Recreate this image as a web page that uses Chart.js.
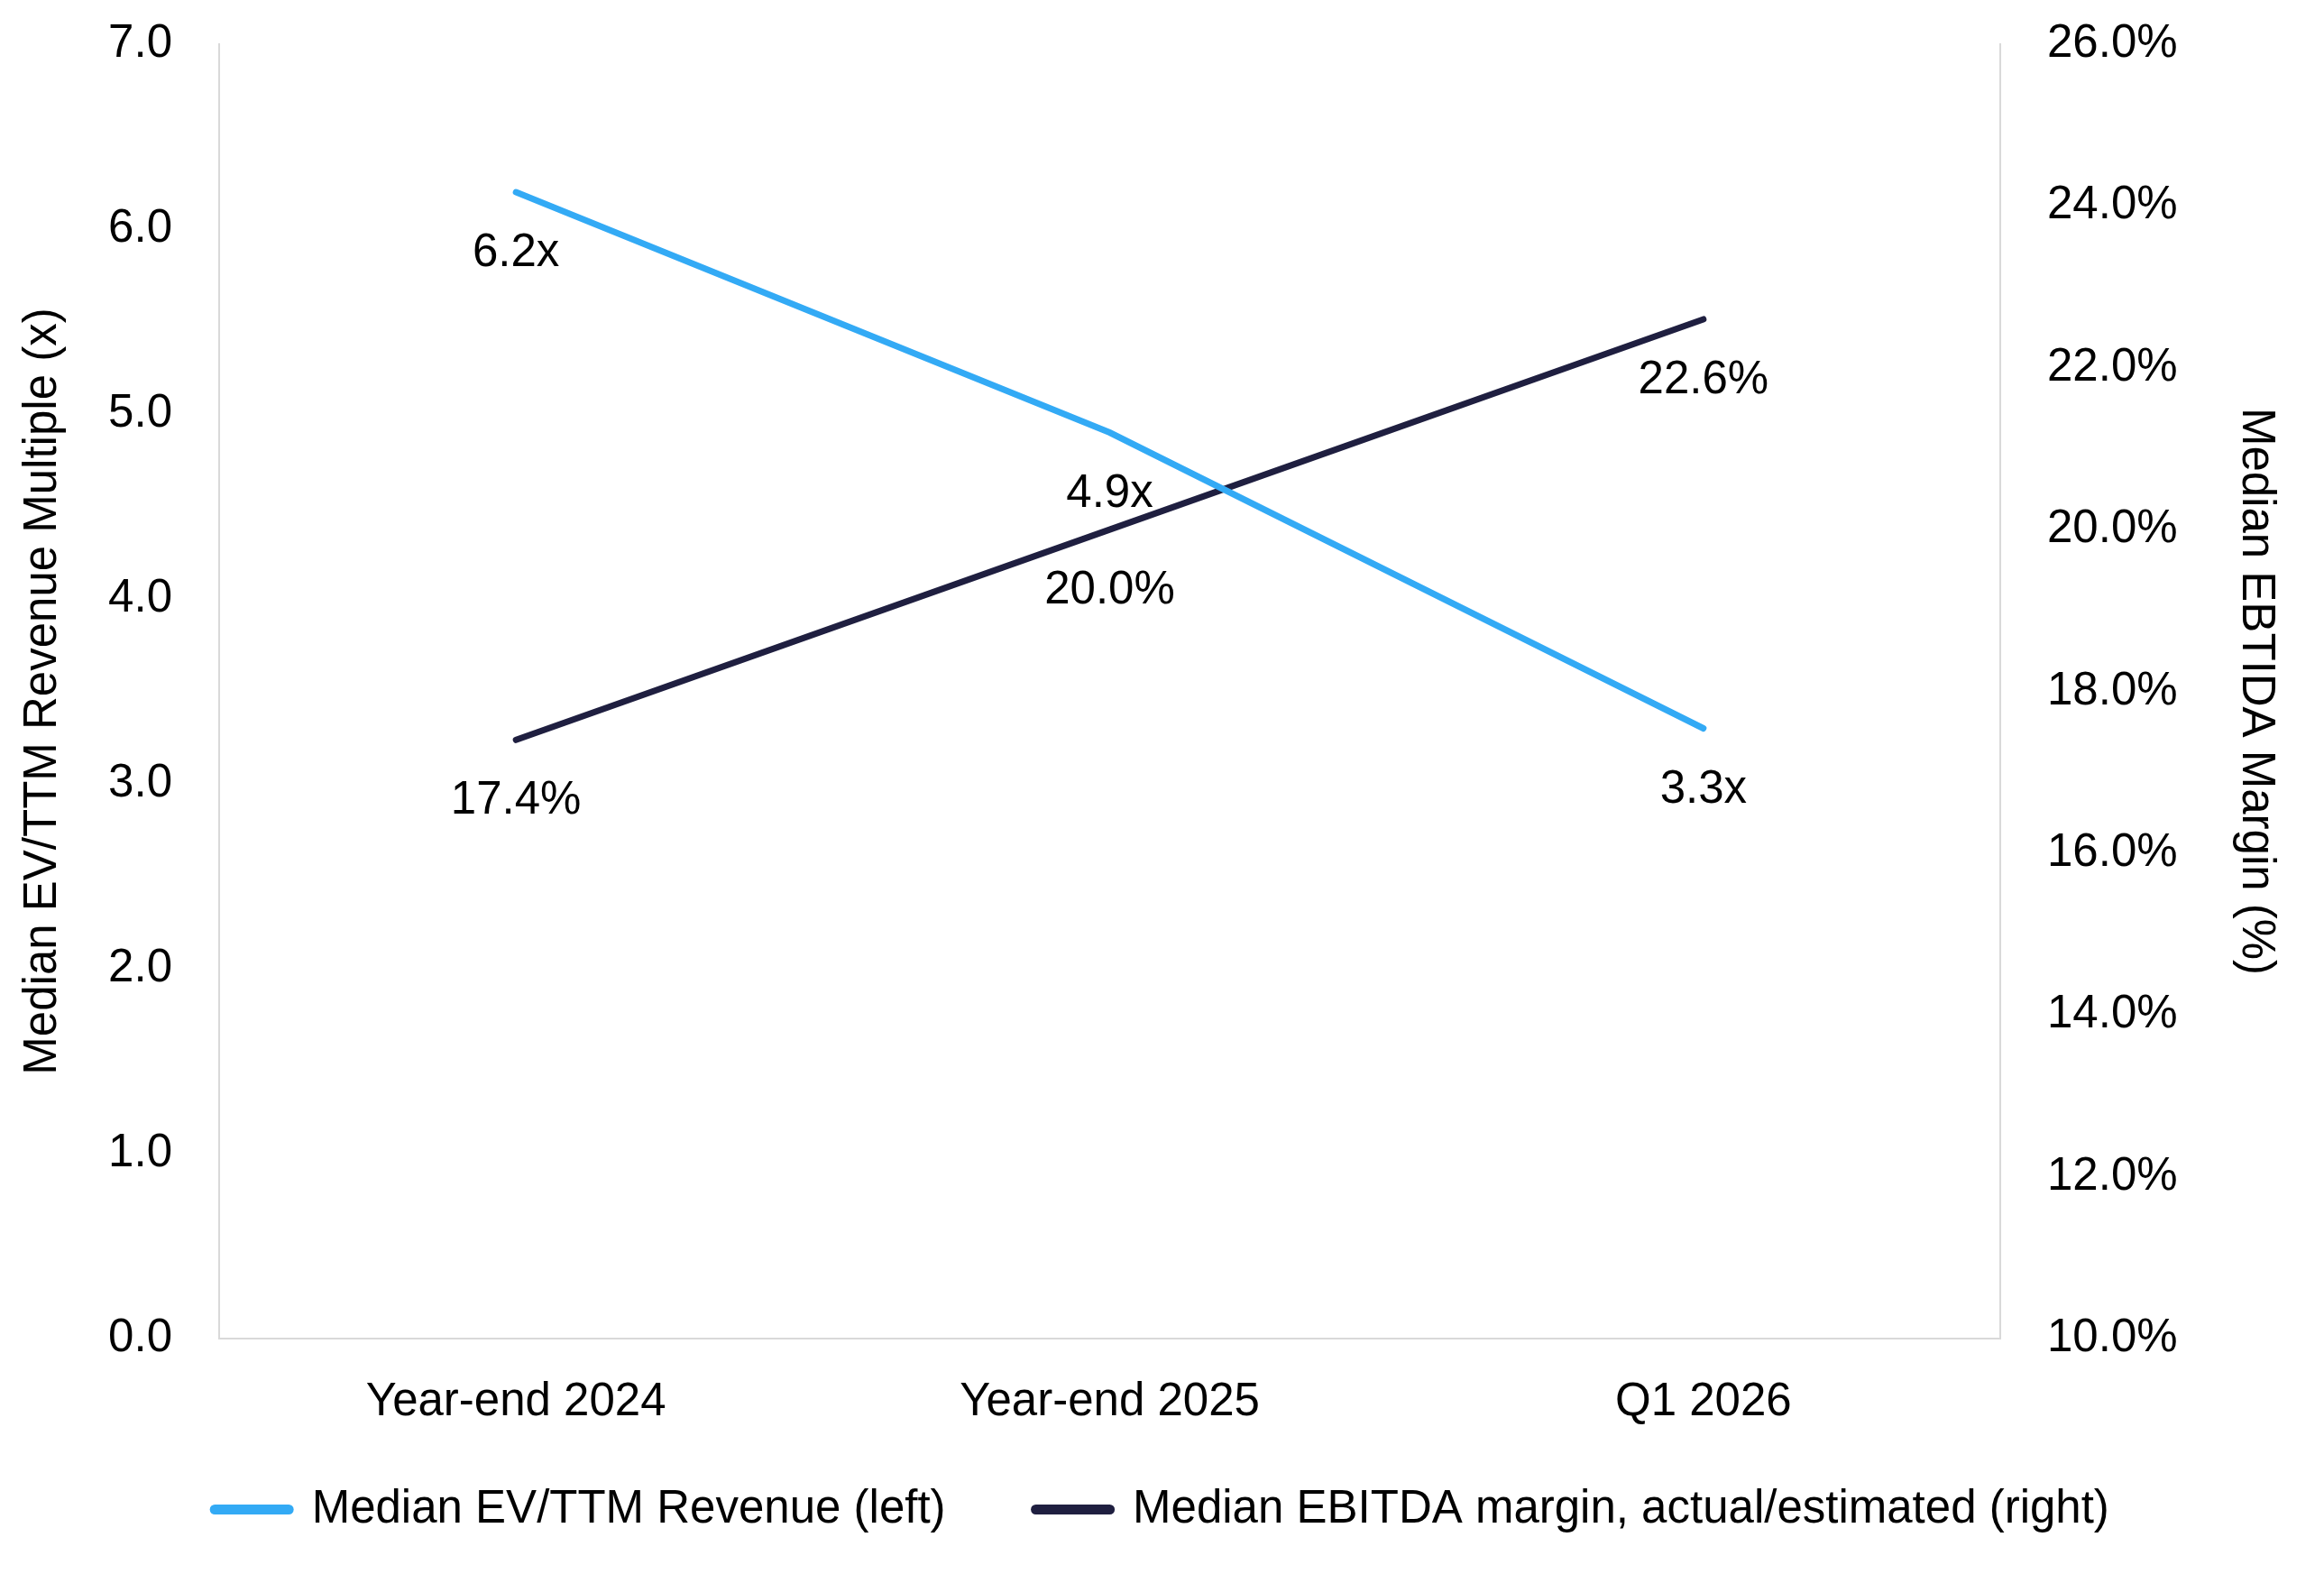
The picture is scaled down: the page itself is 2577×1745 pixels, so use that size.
<!DOCTYPE html>
<html>
<head>
<meta charset="utf-8">
<script src="https://cdn.jsdelivr.net/npm/chart.js@4.4.1/dist/chart.umd.min.js"></script>
<style>
  html, body { margin: 0; padding: 0; background: #ffffff; }
  #wrap { width: 2577px; height: 1745px; position: relative; }
</style>
</head>
<body>
<div id="wrap"><canvas id="myChart"></canvas></div>
<script>
// chart data
var categories = ["Year-end 2024", "Year-end 2025", "Q1 2026"];
var evRevenue = [6.2, 4.9, 3.3];
var ebitdaMargin = [17.4, 20.0, 22.6];
var seriesNames = ["Median EV/TTM Revenue (left)", "Median EBITDA margin, actual/estimated (right)"];
var leftTicks = [0, 1, 2, 3, 4, 5, 6, 7];
var rightTicks = [10, 12, 14, 16, 18, 20, 22, 24, 26];

var FONT = "'Liberation Sans', Arial, sans-serif";
var FS = 51;
Chart.defaults.font.family = FONT;
Chart.defaults.font.size = FS;
Chart.defaults.color = "#000000";

// labels under each point
var pointLabels = {
    id: "pointLabels",
    afterDatasetsDraw: function (chart) {
        var c = chart.ctx;
        c.save();
        c.font = FS + "px " + FONT;
        c.fillStyle = "#000000";
        c.textAlign = "center";
        c.textBaseline = "middle";
        chart.data.datasets.forEach(function (ds, i) {
            var meta = chart.getDatasetMeta(i);
            meta.data.forEach(function (pt, j) {
                var txt = ds.data[j].toFixed(1) + ds.suffix;
                c.fillText(txt, pt.x, pt.y + 68);
            });
        });
        c.restore();
    }
};

// the x axis box is kept short so the legend sits close under it,
// let its labels draw past the box instead of being clipped
var xLabelRoom = {
    id: "xLabelRoom",
    afterLayout: function (chart) {
        chart.scales.x.bottom += 80;
    }
};

var ctx = document.getElementById("myChart").getContext("2d");
var myChart = new Chart(ctx, {
    type: "line",
    data: {
        labels: categories,
        datasets: [
            {
                label: seriesNames[0],
                data: evRevenue,
                suffix: "x",
                yAxisID: "y",
                borderColor: "#33aaf5",
                backgroundColor: "#33aaf5",
                borderWidth: 7,
                borderCapStyle: "round",
                pointRadius: 0,
                pointStyle: "line",
                tension: 0
            },
            {
                label: seriesNames[1],
                data: ebitdaMargin,
                suffix: "%",
                yAxisID: "y1",
                borderColor: "#1f1f40",
                backgroundColor: "#1f1f40",
                borderWidth: 7,
                borderCapStyle: "round",
                pointRadius: 0,
                pointStyle: "line",
                tension: 0
            }
        ]
    },
    options: {
        responsive: true,
        maintainAspectRatio: false,
        animation: false,
        layout: {
            padding: { top: 0, left: 0, right: 0, bottom: 36 }
        },
        plugins: {
            tooltip: { enabled: false },
            legend: {
                position: "bottom",
                labels: {
                    usePointStyle: true,
                    pointStyleWidth: 82,
                    padding: 100,
                    font: { size: FS },
                    color: "#000000",
                    generateLabels: function (chart) {
                        var items = Chart.defaults.plugins.legend.labels.generateLabels(chart);
                        items.forEach(function (it) {
                            it.lineWidth = 11;
                            it.lineCap = "round";
                        });
                        return items;
                    }
                }
            }
        },
        scales: {
            x: {
                offset: true,
                grid: { display: false, drawTicks: false },
                border: { display: true, color: "#d9d9d9", width: 2 },
                ticks: { padding: 40, font: { size: FS } },
                afterFit: function (axis) {
                    axis.height = 64;
                }
            },
            y: {
                position: "left",
                min: 0,
                max: 7,
                afterBuildTicks: function (axis) {
                    axis.ticks = leftTicks.map(function (v) { return { value: v }; });
                },
                afterFit: function (axis) {
                    axis.width = 243;
                    axis.paddingTop = 49;
                    axis.paddingBottom = 0;
                },
                grid: { display: false, drawTicks: false },
                border: { display: true, color: "#d9d9d9", width: 2 },
                ticks: {
                    padding: 52,
                    font: { size: FS },
                    callback: function (v) { return Number(v).toFixed(1); }
                },
                title: {
                    display: true,
                    text: "Median EV/TTM Revenue Multiple (x)",
                    font: { size: FS },
                    padding: { top: 17, bottom: 0 }
                }
            },
            y1: {
                position: "right",
                min: 10,
                max: 26,
                afterBuildTicks: function (axis) {
                    axis.ticks = rightTicks.map(function (v) { return { value: v }; });
                },
                afterFit: function (axis) {
                    axis.width = 359;
                    axis.paddingTop = 49;
                    axis.paddingBottom = 0;
                },
                grid: { display: false, drawTicks: false },
                border: { display: true, color: "#d9d9d9", width: 2 },
                ticks: {
                    padding: 52,
                    font: { size: FS },
                    callback: function (v) { return Number(v).toFixed(1) + "%"; }
                },
                title: {
                    display: true,
                    text: "Median EBTIDA Margin (%)",
                    font: { size: FS },
                    padding: { top: 45, bottom: 0 }
                }
            }
        }
    },
    plugins: [pointLabels, xLabelRoom]
});
</script>
</body>
</html>
